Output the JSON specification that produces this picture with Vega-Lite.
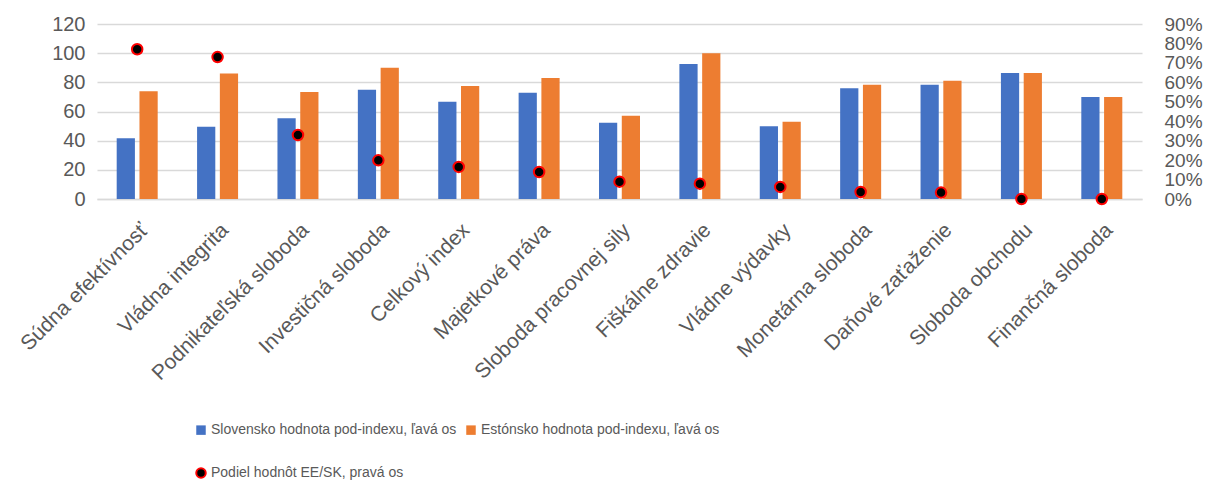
{
  "$schema": "https://vega.github.io/schema/vega-lite/v6.json",
  "width": 1045,
  "height": 175,
  "autosize": {"type": "none"},
  "padding": {"left": 97, "top": 24, "right": 64, "bottom": 286},
  "background": "white",
  "config": {
    "font": "Liberation Sans",
    "view": {"stroke": null}
  },
  "datasets": {
    "bars": [
      {"cat": "Súdna efektívnosť", "series": "Slovensko hodnota pod-indexu, ľavá os", "value": 41.6},
      {"cat": "Súdna efektívnosť", "series": "Estónsko hodnota pod-indexu, ľavá os", "value": 73.9},
      {"cat": "Vládna integrita", "series": "Slovensko hodnota pod-indexu, ľavá os", "value": 49.6},
      {"cat": "Vládna integrita", "series": "Estónsko hodnota pod-indexu, ľavá os", "value": 86.0},
      {"cat": "Podnikateľská sloboda", "series": "Slovensko hodnota pod-indexu, ľavá os", "value": 55.3},
      {"cat": "Podnikateľská sloboda", "series": "Estónsko hodnota pod-indexu, ľavá os", "value": 73.4},
      {"cat": "Investičná sloboda", "series": "Slovensko hodnota pod-indexu, ľavá os", "value": 75.0},
      {"cat": "Investičná sloboda", "series": "Estónsko hodnota pod-indexu, ľavá os", "value": 90.0},
      {"cat": "Celkový index", "series": "Slovensko hodnota pod-indexu, ľavá os", "value": 66.7},
      {"cat": "Celkový index", "series": "Estónsko hodnota pod-indexu, ľavá os", "value": 77.5},
      {"cat": "Majetkové práva", "series": "Slovensko hodnota pod-indexu, ľavá os", "value": 72.9},
      {"cat": "Majetkové práva", "series": "Estónsko hodnota pod-indexu, ľavá os", "value": 83.0},
      {"cat": "Sloboda pracovnej sily", "series": "Slovensko hodnota pod-indexu, ľavá os", "value": 52.3},
      {"cat": "Sloboda pracovnej sily", "series": "Estónsko hodnota pod-indexu, ľavá os", "value": 57.1},
      {"cat": "Fiškálne zdravie", "series": "Slovensko hodnota pod-indexu, ľavá os", "value": 92.6},
      {"cat": "Fiškálne zdravie", "series": "Estónsko hodnota pod-indexu, ľavá os", "value": 99.9},
      {"cat": "Vládne výdavky", "series": "Slovensko hodnota pod-indexu, ľavá os", "value": 49.9},
      {"cat": "Vládne výdavky", "series": "Estónsko hodnota pod-indexu, ľavá os", "value": 53.0},
      {"cat": "Monetárna sloboda", "series": "Slovensko hodnota pod-indexu, ľavá os", "value": 75.9},
      {"cat": "Monetárna sloboda", "series": "Estónsko hodnota pod-indexu, ľavá os", "value": 78.4},
      {"cat": "Daňové zaťaženie", "series": "Slovensko hodnota pod-indexu, ľavá os", "value": 78.4},
      {"cat": "Daňové zaťaženie", "series": "Estónsko hodnota pod-indexu, ľavá os", "value": 81.1},
      {"cat": "Sloboda obchodu", "series": "Slovensko hodnota pod-indexu, ľavá os", "value": 86.4},
      {"cat": "Sloboda obchodu", "series": "Estónsko hodnota pod-indexu, ľavá os", "value": 86.4},
      {"cat": "Finančná sloboda", "series": "Slovensko hodnota pod-indexu, ľavá os", "value": 70.0},
      {"cat": "Finančná sloboda", "series": "Estónsko hodnota pod-indexu, ľavá os", "value": 70.0}
    ],
    "ratio": [
      {"cat": "Súdna efektívnosť", "series": "Podiel hodnôt EE/SK, pravá os", "ratio": 0.77},
      {"cat": "Vládna integrita", "series": "Podiel hodnôt EE/SK, pravá os", "ratio": 0.73},
      {"cat": "Podnikateľská sloboda", "series": "Podiel hodnôt EE/SK, pravá os", "ratio": 0.329},
      {"cat": "Investičná sloboda", "series": "Podiel hodnôt EE/SK, pravá os", "ratio": 0.199},
      {"cat": "Celkový index", "series": "Podiel hodnôt EE/SK, pravá os", "ratio": 0.165},
      {"cat": "Majetkové práva", "series": "Podiel hodnôt EE/SK, pravá os", "ratio": 0.139},
      {"cat": "Sloboda pracovnej sily", "series": "Podiel hodnôt EE/SK, pravá os", "ratio": 0.089},
      {"cat": "Fiškálne zdravie", "series": "Podiel hodnôt EE/SK, pravá os", "ratio": 0.079},
      {"cat": "Vládne výdavky", "series": "Podiel hodnôt EE/SK, pravá os", "ratio": 0.062},
      {"cat": "Monetárna sloboda", "series": "Podiel hodnôt EE/SK, pravá os", "ratio": 0.036},
      {"cat": "Daňové zaťaženie", "series": "Podiel hodnôt EE/SK, pravá os", "ratio": 0.033},
      {"cat": "Sloboda obchodu", "series": "Podiel hodnôt EE/SK, pravá os", "ratio": 0.0},
      {"cat": "Finančná sloboda", "series": "Podiel hodnôt EE/SK, pravá os", "ratio": 0.0}
    ]
  },
  "encoding": {
    "x": {
      "field": "cat",
      "type": "nominal",
      "sort": null,
      "scale": {"paddingInner": 0.49, "paddingOuter": 0.245},
      "axis": {
        "title": null,
        "labelAngle": -45,
        "labelFontSize": 21,
        "labelColor": "#595959",
        "ticks": false,
        "domainColor": "#d9d9d9",
        "domainWidth": 1.5,
        "labelPadding": 20,
        "labelLimit": 400
      }
    }
  },
  "layer": [
    {
      "data": {"name": "bars"},
      "mark": {"type": "bar"},
      "encoding": {
        "xOffset": {
          "field": "series",
          "type": "nominal",
          "sort": ["Slovensko hodnota pod-indexu, ľavá os", "Estónsko hodnota pod-indexu, ľavá os"],
          "scale": {"paddingInner": 0.2, "paddingOuter": 0}
        },
        "y": {
          "field": "value",
          "type": "quantitative",
          "scale": {"domain": [0, 120], "nice": false},
          "axis": {
            "title": null,
            "values": [0, 20, 40, 60, 80, 100, 120],
            "grid": true,
            "gridColor": "#d9d9d9",
            "gridWidth": 1.3,
            "domain": false,
            "ticks": false,
            "labelFontSize": 20,
            "labelColor": "#595959",
            "labelPadding": 12
          }
        },
        "color": {
          "field": "series",
          "type": "nominal",
          "scale": {
            "domain": ["Slovensko hodnota pod-indexu, ľavá os", "Estónsko hodnota pod-indexu, ľavá os", "Podiel hodnôt EE/SK, pravá os"],
            "range": ["#4472C4", "#ED7D31", "#000000"]
          },
          "legend": {
            "title": null,
            "orient": "none",
            "legendX": 97,
            "legendY": 399,
            "direction": "horizontal",
            "columns": 2,
            "columnPadding": 5,
            "rowPadding": 25,
            "labelFont": "Liberation Sans",
            "labelFontSize": 14,
            "labelColor": "#595959",
            "labelLimit": 500,
            "labelOffset": 3,
            "symbolSize": 90,
            "encode": {
              "symbols": {
                "update": {
                  "shape": {"signal": "datum.value === 'Podiel hodnôt EE/SK, pravá os' ? 'circle' : 'square'"},
                  "stroke": {"signal": "datum.value === 'Podiel hodnôt EE/SK, pravá os' ? '#FF0000' : 'transparent'"},
                  "strokeWidth": {"value": 2}
                }
              }
            }
          }
        }
      }
    },
    {
      "data": {"name": "ratio"},
      "mark": {"type": "point", "filled": true, "stroke": "#FF0000", "strokeWidth": 2, "size": 110, "opacity": 1},
      "encoding": {
        "y": {
          "field": "ratio",
          "type": "quantitative",
          "scale": {"domain": [0, 0.9], "nice": false},
          "axis": {
            "orient": "right",
            "title": null,
            "values": [0, 0.1, 0.2, 0.3, 0.4, 0.5, 0.6, 0.7, 0.8, 0.9],
            "format": ".0%",
            "grid": false,
            "domain": false,
            "ticks": false,
            "labelFontSize": 19,
            "labelColor": "#595959",
            "labelPadding": 22,
            "labelOverlap": false
          }
        },
        "color": {"field": "series", "type": "nominal"}
      }
    }
  ],
  "resolve": {"scale": {"y": "independent"}}
}
